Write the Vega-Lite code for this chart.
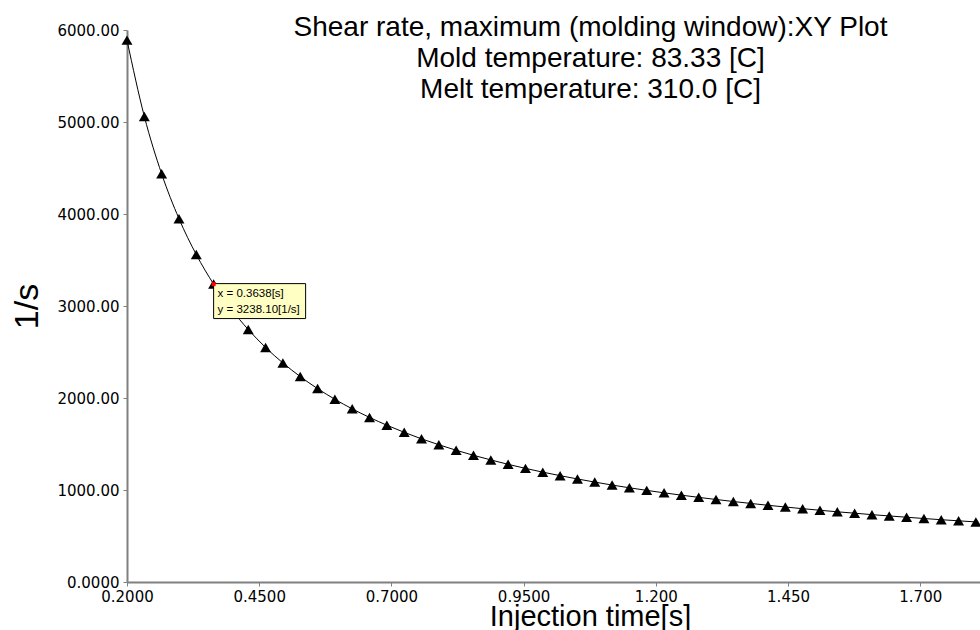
{
  "$schema": "https://vega.github.io/schema/vega-lite/v6.json",
  "width": 853,
  "height": 552,
  "autosize": {"type": "none"},
  "padding": {"left": 127, "top": 30, "right": 0, "bottom": 48},
  "background": "white",
  "config": {"view": {"stroke": null}},
  "title": {
    "text": ["Shear rate, maximum (molding window):XY Plot", "Mold temperature: 83.33 [C]", "Melt temperature: 310.0 [C]"],
    "font": "Liberation Sans",
    "fontSize": 28,
    "fontWeight": "normal",
    "color": "black",
    "lineHeight": 31,
    "anchor": "middle",
    "frame": "group",
    "baseline": "top",
    "dx": 37,
    "offset": -81
  },
  "datasets": {
    "curve": [
      {"t": 0.2000, "rate": 5890}, {"t": 0.2328, "rate": 5060}, {"t": 0.2655, "rate": 4437}, {"t": 0.2983, "rate": 3949},
      {"t": 0.3310, "rate": 3559}, {"t": 0.3638, "rate": 3238}, {"t": 0.3966, "rate": 2970}, {"t": 0.4293, "rate": 2744},
      {"t": 0.4621, "rate": 2549}, {"t": 0.4948, "rate": 2381}, {"t": 0.5276, "rate": 2233}, {"t": 0.5604, "rate": 2102},
      {"t": 0.5931, "rate": 1986}, {"t": 0.6259, "rate": 1882}, {"t": 0.6586, "rate": 1789}, {"t": 0.6914, "rate": 1704},
      {"t": 0.7242, "rate": 1627}, {"t": 0.7569, "rate": 1556}, {"t": 0.7897, "rate": 1492}, {"t": 0.8224, "rate": 1432},
      {"t": 0.8552, "rate": 1377}, {"t": 0.8880, "rate": 1327}, {"t": 0.9207, "rate": 1279}, {"t": 0.9535, "rate": 1235},
      {"t": 0.9862, "rate": 1194}, {"t": 1.0190, "rate": 1156}, {"t": 1.0518, "rate": 1120}, {"t": 1.0845, "rate": 1086},
      {"t": 1.1173, "rate": 1054}, {"t": 1.1500, "rate": 1024}, {"t": 1.1828, "rate": 996}, {"t": 1.2156, "rate": 969},
      {"t": 1.2483, "rate": 944}, {"t": 1.2811, "rate": 920}, {"t": 1.3138, "rate": 897}, {"t": 1.3466, "rate": 875},
      {"t": 1.3794, "rate": 854}, {"t": 1.4121, "rate": 834}, {"t": 1.4449, "rate": 815}, {"t": 1.4776, "rate": 797},
      {"t": 1.5104, "rate": 780}, {"t": 1.5432, "rate": 763}, {"t": 1.5759, "rate": 748}, {"t": 1.6087, "rate": 732},
      {"t": 1.6414, "rate": 718}, {"t": 1.6742, "rate": 704}, {"t": 1.7070, "rate": 690}, {"t": 1.7397, "rate": 677},
      {"t": 1.7725, "rate": 665}, {"t": 1.8052, "rate": 653}
    ],
    "probe": [
      {"t": 0.3638, "rate": 3238.1, "label": "x = 0.3638[s]\ny = 3238.10[1/s]"}
    ]
  },
  "encoding": {
    "x": {
      "field": "t", "type": "quantitative",
      "scale": {"domain": [0.2, 1.813], "nice": false, "zero": false},
      "axis": {
        "values": [0.2, 0.45, 0.7, 0.95, 1.2, 1.45, 1.7],
        "format": ".4r",
        "labelFont": "DejaVu Sans", "labelFontSize": 15, "labelColor": "black",
        "labelPadding": 3, "labelFlush": false, "labelOverlap": false,
        "domainColor": "#808080", "domainWidth": 2,
        "tickColor": "#808080", "tickSize": 4, "grid": false,
        "title": "Injection time[s]",
        "titleFont": "Liberation Sans", "titleFontSize": 29, "titleFontWeight": "normal", "titleColor": "black",
        "titleX": 463, "titleY": 43, "titleAlign": "center", "titleBaseline": "alphabetic"
      }
    },
    "y": {
      "field": "rate", "type": "quantitative",
      "scale": {"domain": [0, 6000], "nice": false},
      "axis": {
        "values": [0, 1000, 2000, 3000, 4000, 5000, 6000],
        "labelExpr": "datum.value == 0 ? '0.0000' : format(datum.value, '.2f')",
        "labelFont": "DejaVu Sans", "labelFontSize": 15, "labelColor": "black",
        "labelPadding": 4, "labelFlush": false, "labelOverlap": false,
        "domainColor": "#808080", "domainWidth": 2,
        "tickColor": "#808080", "tickSize": 4, "grid": false,
        "title": "1/s",
        "titleFont": "Liberation Sans", "titleFontSize": 34, "titleFontWeight": "normal", "titleColor": "black",
        "titleAngle": -90, "titleX": -90, "titleY": 276, "titleAlign": "center", "titleBaseline": "alphabetic"
      }
    }
  },
  "layer": [
    {
      "data": {"name": "curve"},
      "mark": {"type": "line", "color": "black", "strokeWidth": 1, "interpolate": "monotone"}
    },
    {
      "data": {"name": "curve"},
      "mark": {"type": "point", "shape": "triangle-up", "filled": true, "color": "black", "opacity": 1, "size": 120}
    },
    {
      "data": {"name": "probe"},
      "mark": {"type": "point", "shape": "M-1,-0.38L1,-0.38L1,0.38L-1,0.38Z", "size": 8464, "filled": true, "fill": "#ffffc4", "stroke": "black", "strokeWidth": 1, "opacity": 1, "xOffset": 46, "yOffset": 17}
    },
    {
      "data": {"name": "probe"},
      "mark": {"type": "text", "align": "left", "baseline": "alphabetic", "dx": 4, "dy": 13, "font": "Liberation Sans", "fontSize": 11.5, "lineHeight": 16, "lineBreak": "\n", "color": "black"},
      "encoding": {"text": {"field": "label"}}
    },
    {
      "data": {"name": "probe"},
      "mark": {"type": "point", "shape": "square", "filled": true, "color": "#ff0000", "opacity": 1, "size": 16}
    }
  ]
}
